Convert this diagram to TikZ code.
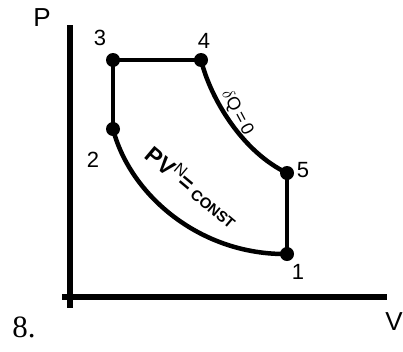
\documentclass[tikz,border=0pt]{standalone}
\usepackage{fontspec}
\setmainfont{Liberation Sans}
\newfontfamily\numfont{Liberation Serif}
\usepackage{tikz}
\usetikzlibrary{positioning}

\begin{document}
\begin{tikzpicture}[x=1pt,y=-1pt,
  axis/.style={line width=5.5pt},
  cycle/.style={line width=4.5pt,line cap=round},
  pt/.style={circle,fill=black,inner sep=0pt,minimum size=14pt},
  lbl/.style={font=\fontsize{22}{24}\selectfont,inner sep=1pt}
]
\useasboundingbox (0,0) rectangle (403,351);
% axes
\coordinate (ytop) at (70,25);
\coordinate (ybot) at (70,308);
\coordinate (xleft) at (62,297);
\coordinate (xright) at (387,297);
\draw[axis] (ytop) -- (ybot);
\draw[axis] (xleft) -- (xright);
\node[lbl,font=\fontsize{26}{28}\selectfont] (plabel) at (42,18) {P};
\node[lbl,font=\fontsize{26}{28}\selectfont] (vlabel) at (394,322) {V};
\node[font=\numfont\fontsize{31}{33}\selectfont] (num) at (24,327) {8.};
% state points
\node[pt] (p1) at (287,254) {};
\node[pt] (p2) at (113,129) {};
\node[pt] (p3) at (113,60) {};
\node[pt] (p4) at (201,60) {};
\node[pt] (p5) at (287,173) {};
\node[lbl] (l1) at (298,272) {1};
\node[lbl] (l2) at (93,160) {2};
\node[lbl] (l3) at (100,38) {3};
\node[lbl] (l4) at (204,41) {4};
\node[lbl] (l5) at (303,170) {5};
% cycle
\draw[cycle] (p2.center) -- (p3.center) -- (p4.center);
\draw[cycle] (p4.center) .. controls (211,100) and (243,152) .. (p5.center);
\draw[cycle] (p5.center) -- (p1.center);
\draw[cycle] (p2.center) .. controls (130,195) and (200,255) .. (p1.center);
\node[rotate=-62,font=\fontsize{18}{19}\selectfont] (adiab) at (237,113) {$\delta$Q\,=\,0};
\node[rotate=-40,font=\bfseries\fontsize{23}{24}\selectfont] (poly) at (193,186)
  {PV$^{\mathrm{N}}$=\,{\fontsize{15}{16}\selectfont CONST}};
\end{tikzpicture}
\end{document}
